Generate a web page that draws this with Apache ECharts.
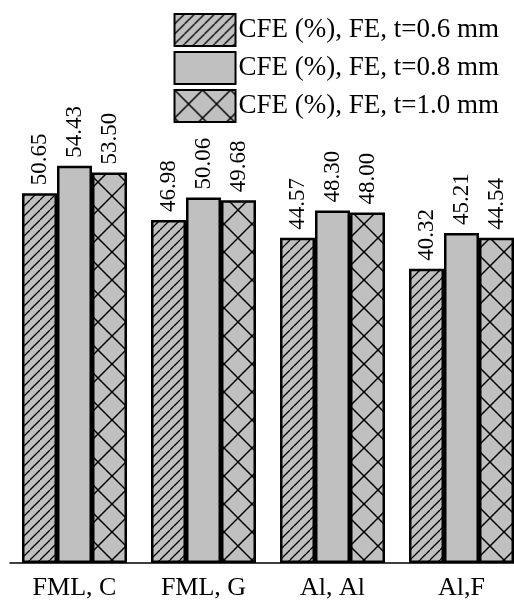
<!DOCTYPE html>
<html><head><meta charset="utf-8">
<script src="https://cdn.jsdelivr.net/npm/echarts@6/dist/echarts.min.js"></script>
<style>html,body{margin:0;padding:0;background:#fff}#c{width:514px;height:602px}</style>
</head><body><div id="c"></div>
<script>
const categories = ['FML, C', 'FML, G', 'Al, Al', 'Al,F'];
const seriesNames = ['CFE (%), FE, t=0.6 mm', 'CFE (%), FE, t=0.8 mm', 'CFE (%), FE, t=1.0 mm'];
const t06 = [50.65, 46.98, 44.57, 40.32];
const t08 = [54.43, 50.06, 48.30, 45.21];
const t10 = [53.50, 49.68, 48.00, 44.54];

const GRAY = '#c0c0c0';
const FONT = 'Liberation Serif';

function hatch() {
  const c = document.createElement('canvas'); const s = 10;
  c.width = s; c.height = s;
  const g = c.getContext('2d');
  g.fillStyle = GRAY; g.fillRect(0, 0, s, s);
  g.strokeStyle = '#000'; g.lineWidth = 1.3;
  for (const d of [-s, 0, s]) { g.beginPath(); g.moveTo(d, s); g.lineTo(d + s, 0); g.stroke(); }
  return c;
}
function cross() {
  const c = document.createElement('canvas'); const s = 28;
  c.width = s; c.height = s;
  const g = c.getContext('2d');
  g.fillStyle = GRAY; g.fillRect(0, 0, s, s);
  g.strokeStyle = '#000'; g.lineWidth = 1.5;
  for (const d of [-s, 0, s]) {
    g.beginPath(); g.moveTo(d, 0); g.lineTo(d + s, s); g.stroke();
    g.beginPath(); g.moveTo(d + s, 0); g.lineTo(d, s); g.stroke();
  }
  return c;
}
const fills = [{image: hatch(), repeat: 'repeat'}, GRAY, {image: cross(), repeat: 'repeat'}];
const data = [t06, t08, t10];

const chart = echarts.init(document.getElementById('c'), null, {renderer: 'canvas'});
chart.setOption({
  animation: false,
  textStyle: {fontFamily: FONT},
  grid: {left: 10, width: 516, top: 125, bottom: 39, containLabel: false, outerBoundsMode: 'none'},
  legend: {
    orient: 'vertical', right: 15, top: 13, itemWidth: 61, itemHeight: 32, itemGap: 4,
    icon: 'rect', padding: 0,
    textStyle: {fontSize: 27, fontFamily: FONT, color: '#000', padding: [2, 0, 0, -2]},
    data: seriesNames
  },
  xAxis: {
    type: 'category', data: categories,
    axisLine: {lineStyle: {color: '#000', width: 1.5}},
    axisTick: {show: false},
    axisLabel: {fontSize: 26, fontFamily: FONT, color: '#000', margin: 12}
  },
  yAxis: {type: 'value', min: 0, max: 60, show: false, splitLine: {show: false}},
  series: seriesNames.map((n, i) => ({
    name: n, type: 'bar', data: data[i],
    barGap: '0%', barCategoryGap: '18.6%',
    itemStyle: {color: fills[i], borderColor: '#000', borderWidth: 2.5},
    label: {
      show: true, position: 'top', rotate: 90, align: 'left', verticalAlign: 'middle',
      distance: 8, fontSize: 23, fontFamily: FONT, color: '#000',
      formatter: p => p.value.toFixed(2)
    }
  }))
});
</script></body></html>
